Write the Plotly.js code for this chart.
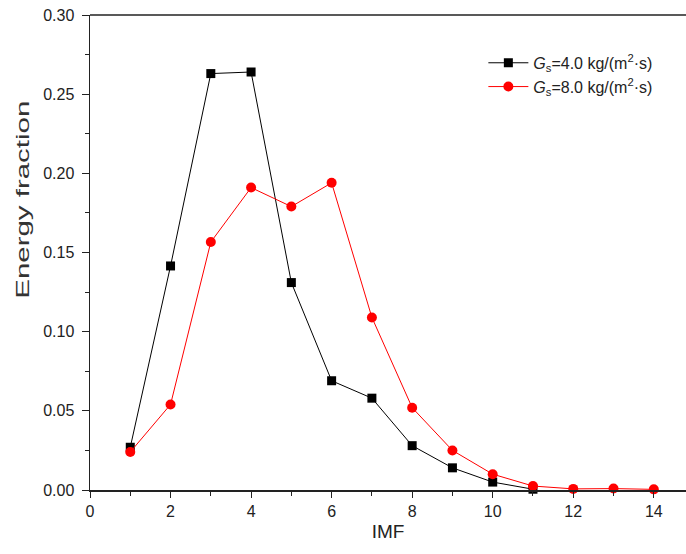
<!DOCTYPE html>
<html><head><meta charset="utf-8">
<script src="https://cdn.plot.ly/plotly-3.0.1.min.js"></script>
<style>html,body{margin:0;padding:0;background:#fff}</style>
</head><body><div id="chart" style="width:686px;height:554px"></div>
<script>
const imfBlack = [1,2,3,4,5,6,7,8,9,10,11];
const energyBlack = [0.027,0.1415,0.263,0.264,0.131,0.069,0.058,0.028,0.014,0.005,0.0005];
const imfRed = [1,2,3,4,5,6,7,8,9,10,11,12,13,14];
const energyRed = [0.024,0.054,0.1566,0.191,0.179,0.194,0.109,0.052,0.025,0.010,0.0025,0.0007,0.0009,0.0004];
const nameBlack = '<i>G</i><sub>s</sub>=4.0 kg/(m<sup>2</sup>·s)';
const nameRed = '<i>G</i><sub>s</sub>=8.0 kg/(m<sup>2</sup>·s)';
const xTicks = [0,2,4,6,8,10,12,14];
const yTicks = [0,0.05,0.10,0.15,0.20,0.25,0.30];
const xTitle = 'IMF';
const yTitle = 'Energy fraction';
const font = 'Liberation Sans, Arial, sans-serif';
const traces = [
 {x: imfBlack, y: energyBlack, name: nameBlack, mode:'lines+markers', line:{color:'#000',width:1}, marker:{symbol:'square',size:9,color:'#000'}, cliponaxis:false},
 {x: imfRed, y: energyRed, name: nameRed, mode:'lines+markers', line:{color:'#ff0000',width:1}, marker:{symbol:'circle',size:10,color:'#ff0000'}, cliponaxis:false}
];
const layout = {
 width:686, height:554,
 margin:{l:90,r:0,t:15,b:64},
 paper_bgcolor:'#fff', plot_bgcolor:'#fff',
 font:{family:font,color:'#222',size:16},
 showlegend:true,
 legend:{x:0.66,y:0.935,xanchor:'left',yanchor:'top',bgcolor:'rgba(0,0,0,0)',font:{family:font,size:16,color:'#222'},tracegroupgap:0,itemwidth:40},
 xaxis:{range:[0,14.8],tickvals:xTicks,ticktext:xTicks.map(String),ticks:'outside',ticklen:6,tickwidth:1,tickcolor:'#222',
   tickfont:{family:font,size:16,color:'#222'},
   showline:true,linecolor:'#222',linewidth:1.5,mirror:false,showgrid:false,zeroline:false,
   minor:{tickvals:[1,3,5,7,9,11,13],ticks:'outside',ticklen:4,tickcolor:'#222'},
   title:{text:xTitle,font:{family:font,size:19,color:'#222'},standoff:6}},
 yaxis:{range:[0,0.30],tickvals:yTicks,ticktext:yTicks.map(v=>v.toFixed(2)),ticks:'outside',ticklen:7,tickwidth:1,tickcolor:'#222',
   tickfont:{family:font,size:16,color:'#222'},ticklabelstandoff:4,
   showline:true,linecolor:'#222',linewidth:1.5,showgrid:false,zeroline:false,
   minor:{tickvals:[0.025,0.075,0.125,0.175,0.225,0.275],ticks:'outside',ticklen:4,tickcolor:'#222'}},
 annotations:[{text:yTitle,xref:'paper',yref:'paper',x:0,y:0.61,xanchor:'center',yanchor:'middle',xshift:-67,textangle:-90,showarrow:false,font:{family:font,size:18,color:'#333'}}],
 shapes:[{type:'line',xref:'paper',yref:'paper',x0:0,x1:1,y0:1,y1:1,line:{color:'#222',width:1.5}}]
};
Plotly.newPlot('chart',traces,layout,{displayModeBar:false,staticPlot:true}).then(function(gd){
  var t = gd.querySelector('.annotation-text');
  if (t) { t.setAttribute('textLength','198'); t.setAttribute('lengthAdjust','spacingAndGlyphs'); }
});
</script></body></html>
